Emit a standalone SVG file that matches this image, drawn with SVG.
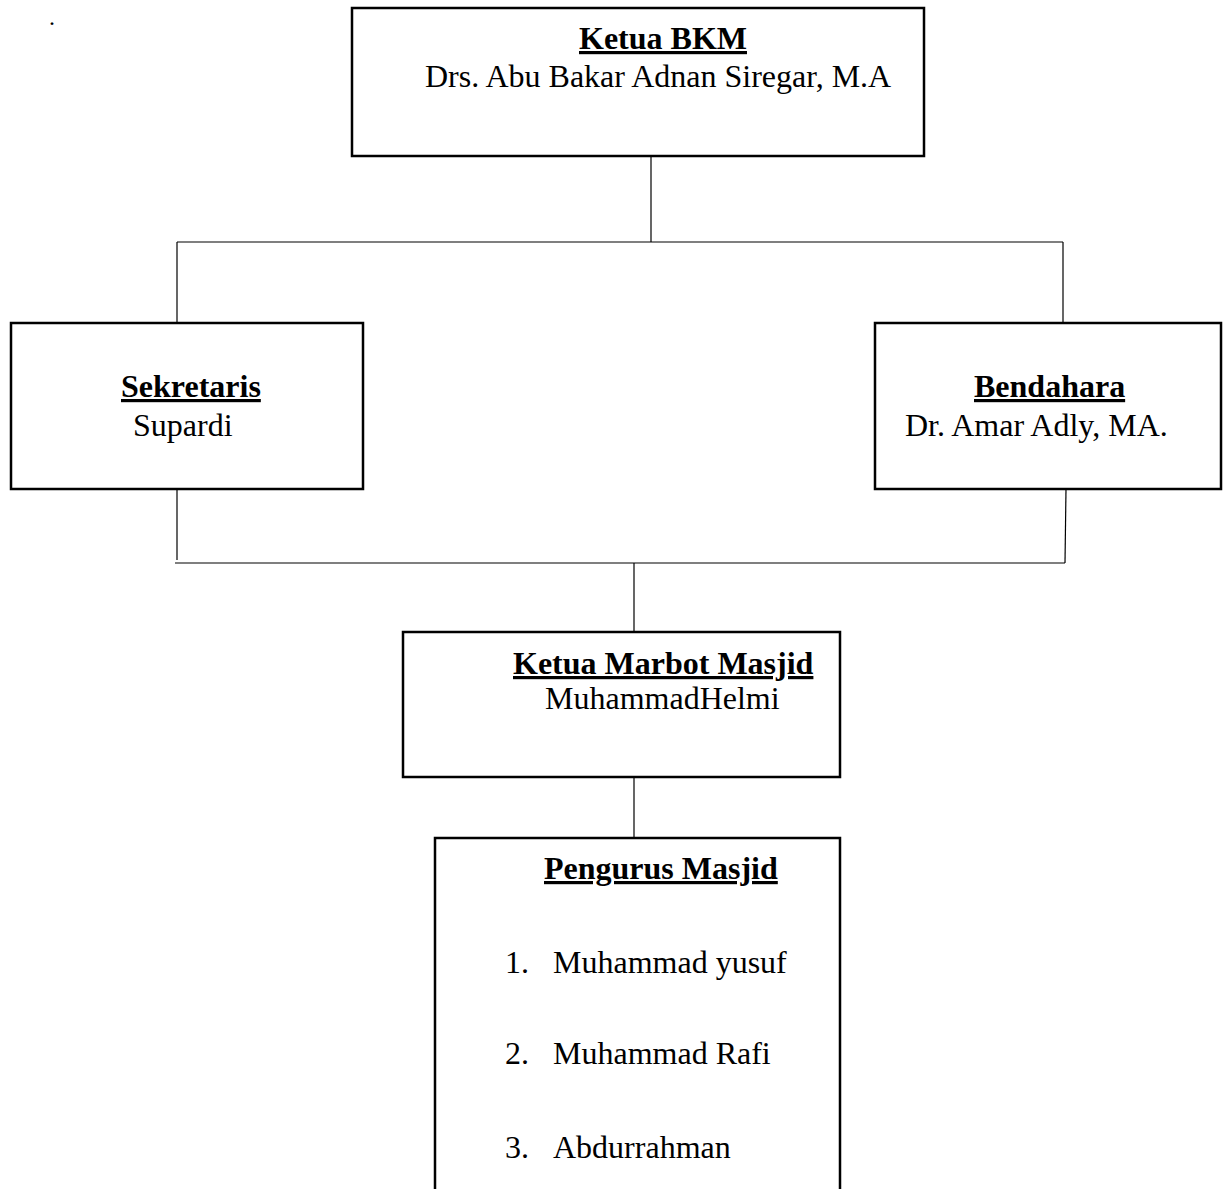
<svg xmlns="http://www.w3.org/2000/svg" width="1225" height="1189" viewBox="0 0 1225 1189">
<style>
.box{fill:#fff;stroke:#000;stroke-width:2.5}
.con{stroke:#000;stroke-width:1.2;fill:none}
text{font-family:"Liberation Serif","Times New Roman",serif;font-size:32px;fill:#000}
.h{font-weight:bold;text-decoration:underline}
.dot{font-size:24px}
</style>
<rect width="1225" height="1189" fill="#fff"/>
<text class="dot" x="49" y="25">.</text>
<g id="connectors">
<line class="con" x1="651" y1="157" x2="651" y2="242"/>
<line class="con" x1="177" y1="242" x2="1063" y2="242"/>
<line class="con" x1="177" y1="242" x2="177" y2="323"/>
<line class="con" x1="1063" y1="242" x2="1063" y2="323"/>
<line class="con" x1="177" y1="489" x2="177" y2="560"/>
<line class="con" x1="1066" y1="489" x2="1065" y2="563"/>
<line class="con" x1="175" y1="563" x2="1065" y2="563"/>
<line class="con" x1="634" y1="563" x2="634" y2="632"/>
<line class="con" x1="634" y1="777" x2="634" y2="838"/>
</g>
<g id="ketua-bkm">
<rect class="box" x="352" y="8" width="572" height="148"/>
<text class="h" x="579" y="49">Ketua BKM</text>
<text x="425" y="87">Drs. Abu Bakar Adnan Siregar, M.A</text>
</g>
<g id="sekretaris">
<rect class="box" x="11" y="323" width="352" height="166"/>
<text class="h" x="121" y="397">Sekretaris</text>
<text x="133" y="436">Supardi</text>
</g>
<g id="bendahara">
<rect class="box" x="875" y="323" width="346" height="166"/>
<text class="h" x="974" y="397">Bendahara</text>
<text x="905" y="436">Dr. Amar Adly, MA.</text>
</g>
<g id="ketua-marbot">
<rect class="box" x="403" y="632" width="437" height="145"/>
<text class="h" x="513" y="674">Ketua Marbot Masjid</text>
<text x="545" y="709">MuhammadHelmi</text>
</g>
<g id="pengurus">
<path class="box" d="M435,1192 V838 H840 V1192"/>
<text class="h" x="544" y="879">Pengurus Masjid</text>
<text x="505" y="973">1.</text>
<text x="553" y="973">Muhammad yusuf</text>
<text x="505" y="1064">2.</text>
<text x="553" y="1064">Muhammad Rafi</text>
<text x="505" y="1158">3.</text>
<text x="553" y="1158">Abdurrahman</text>
</g>
</svg>
